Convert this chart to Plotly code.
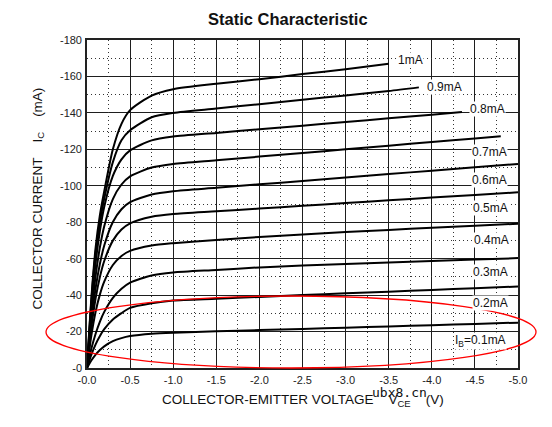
import plotly.graph_objects as go

# ---------------- data ----------------
V_FULL = [0, -0.05, -0.1, -0.15, -0.2, -0.3, -0.4, -0.5, -0.75, -1.0,
          -1.5, -2.0, -2.5, -3.0, -3.5, -4.0, -4.5, -5.0]

vce_1mA = V_FULL[:15]
ic_1mA = [0, -38, -66, -84, -97, -120, -134, -141.5, -149.5, -153,
          -156, -158.5, -161.3, -164, -167]

vce_09mA = V_FULL[:15] + [-3.85]
ic_09mA = [0, -36.5, -63.4, -80, -93, -113, -125, -130.5, -137.6, -140,
           -142.4, -144.8, -147.2, -149.6, -152, -154]

vce_08mA = V_FULL[:16] + [-4.35]
ic_08mA = [0, -33.2, -57.6, -75.4, -88.5, -105.4, -114.5, -119.4, -124.9, -127,
           -129, -131, -133, -135, -137, -139, -140.5]

vce_07mA = V_FULL[:17] + [-4.8]
ic_07mA = [0, -29.1, -50.6, -66.3, -77.8, -92.7, -100.7, -105.2, -110, -112,
           -114, -116, -118, -120, -122, -124, -126, -127.2]

vce_06mA = V_FULL
ic_06mA = [0, -25.2, -43.8, -57.3, -67.2, -80.1, -87.1, -91, -95.2, -97,
           -98.9, -100.8, -102.6, -104.5, -106.4, -108.3, -110.1, -112]

vce_05mA = V_FULL
ic_05mA = [0, -22, -38.2, -50, -58.7, -69.9, -76, -79.4, -83, -84.5,
           -86, -87.5, -89, -90.5, -92, -93.5, -95, -96.4]

vce_04mA = V_FULL
ic_04mA = [0, -17.7, -30.9, -40.4, -47.4, -56.5, -61.5, -64.3, -67.2, -68.5,
           -70.3, -71.9, -73.3, -74.6, -75.8, -77, -78.1, -79.2]

vce_03mA = V_FULL
ic_03mA = [0, -10.5, -18.8, -25.5, -30.8, -38.5, -43.5, -46.9, -50.8, -52.4,
           -53.8, -55.2, -56.2, -57.1, -57.9, -58.7, -59.5, -60.3]

vce_02mA = V_FULL
ic_02mA = [0, -7.2, -13, -17.6, -21.3, -26.6, -30.1, -33.0, -35.5, -37,
           -38, -39, -40, -41, -41.9, -42.8, -43.8, -44.7]

vce_01mA = V_FULL
ic_01mA = [0, -4.1, -7.4, -9.9, -11.9, -14.7, -16.4, -17.5, -18.8, -19.4,
           -20.1, -20.8, -21.4, -22.1, -22.8, -23.5, -24.2, -24.9]

curve_labels = ["1mA", "0.9mA", "0.8mA", "0.7mA", "0.6mA", "0.5mA",
                "0.4mA", "0.3mA", "0.2mA", "I<sub>B</sub>=0.1mA"]
label_x = [-3.60, -3.93, -4.43, -4.45, -4.45, -4.47, -4.48, -4.47, -4.47, -4.26]
label_y = [-169.0, -154.4, -142.0, -118.7, -103.2, -87.6, -70.2, -52.8, -35.5, -15.0]

x_tickvals = [0, -0.5, -1.0, -1.5, -2.0, -2.5, -3.0, -3.5, -4.0, -4.5, -5.0]
x_ticktext = ["-0.0", "-0.5", "-1.0", "-1.5", "-2.0", "-2.5", "-3.0", "-3.5",
              "-4.0", "-4.5", "-5.0"]
x_minor = [-0.25, -0.75, -1.25, -1.75, -2.25, -2.75, -3.25, -3.75, -4.25, -4.75]
y_tickvals = [0, -20, -40, -60, -80, -100, -120, -140, -160, -180]
y_ticktext = ["-0", "-20", "-40", "-60", "-80", "-100", "-120", "-140", "-160", "-180"]
y_minor = [-10, -30, -50, -70, -90, -110, -130, -150, -170]

# ---------------- figure ----------------
FONT = "Liberation Sans, Arial, sans-serif"
fig = go.Figure()

# empty trace so the overlay (dotted minor grid) axes are drawn
fig.add_trace(go.Scatter(x=[], y=[], xaxis="x2", yaxis="y2", mode="lines",
                         hoverinfo="skip", showlegend=False))

series = [(vce_1mA, ic_1mA), (vce_09mA, ic_09mA), (vce_08mA, ic_08mA),
          (vce_07mA, ic_07mA), (vce_06mA, ic_06mA), (vce_05mA, ic_05mA),
          (vce_04mA, ic_04mA), (vce_03mA, ic_03mA), (vce_02mA, ic_02mA),
          (vce_01mA, ic_01mA)]
for xs, ys in series:
    fig.add_trace(go.Scatter(x=xs, y=ys, mode="lines",
                             line=dict(color="black", width=2, shape="spline", smoothing=0.7),
                             hoverinfo="skip", showlegend=False))

for txt, lx, ly in zip(curve_labels, label_x, label_y):
    fig.add_annotation(x=lx, y=ly, xref="x", yref="y", text=txt, showarrow=False,
                       xanchor="left", yanchor="middle", bgcolor="white", borderpad=0,
                       font=dict(family=FONT, size=12, color="#111"))

major = dict(showgrid=True, gridcolor="#1e1e1e", gridwidth=1.35, griddash="solid",
             showline=True, linecolor="#222", linewidth=1.6, mirror=True,
             ticks="", zeroline=False, tickfont=dict(family=FONT, size=11, color="#222"),
             ticklabelstandoff=1)
dotted = dict(showgrid=True, gridcolor="#333", gridwidth=1.2, griddash="1px,3px",
              showline=False, showticklabels=False, ticks="", zeroline=False)

fig.update_layout(
    xaxis=dict(range=[0, -5], tickmode="array", tickvals=x_tickvals, ticktext=x_ticktext, **major),
    yaxis=dict(range=[0, -180], tickmode="array", tickvals=y_tickvals, ticktext=y_ticktext, **major),
    xaxis2=dict(overlaying="x", side="top", range=[0, -5], tickmode="array",
                tickvals=x_minor, **dotted),
    yaxis2=dict(overlaying="y", side="right", range=[0, -180], tickmode="array",
                tickvals=y_minor, **dotted),
)

NB = "\u00a0"
fig.add_annotation(xref="paper", yref="paper", x=0.4657, y=1.064, showarrow=False,
                   text="<b>Static Characteristic</b>", xanchor="center", yanchor="middle",
                   font=dict(family=FONT, size=16.5, color="#111"))
fig.add_annotation(xref="paper", yref="paper", x=0.502, y=-0.0976, showarrow=False,
                   text="COLLECTOR-EMITTER VOLTAGE" + NB * 4 + "V<sub>CE</sub>" + NB * 4 + "(V)",
                   xanchor="center", yanchor="middle",
                   font=dict(family=FONT, size=13.5, color="#111"))
fig.add_annotation(xref="paper", yref="paper", x=-0.1137, y=0.5168, showarrow=False,
                   text="COLLECTOR CURRENT" + NB * 4 + "I<sub>C</sub>" + NB * 4 + "(mA)",
                   textangle=-90, xanchor="center", yanchor="middle",
                   font=dict(family=FONT, size=13.5, color="#111"))
fig.add_annotation(xref="paper", yref="paper", x=0.726, y=-0.075, showarrow=False,
                   text="ubx8.cn", xanchor="center", yanchor="middle",
                   font=dict(family="DejaVu Sans Mono, monospace", size=13, color="#111"))

# red ellipse highlighting the low-current region
fig.add_shape(type="circle", xref="paper", yref="paper",
              x0=-0.0951, x1=1.0418, y0=0.0, y1=0.2195,
              line=dict(color="red", width=1.3), layer="above")

fig.update_layout(width=552, height=427,
                  margin=dict(l=87, r=34, t=40, b=59, autoexpand=False),
                  paper_bgcolor="white", plot_bgcolor="white", showlegend=False)

fig.write_html("out.html", config={"displayModeBar": False},
               post_script="document.body.style.margin='0';")
